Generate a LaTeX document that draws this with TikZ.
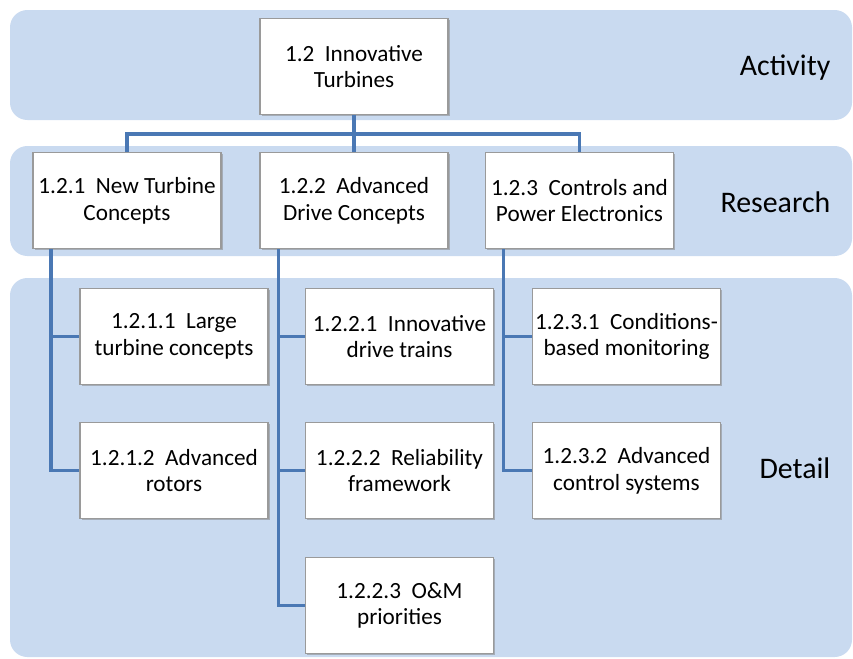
\documentclass[tikz,border=0pt]{standalone}
\usepackage{fontspec}
\setmainfont{Carlito}
\usetikzlibrary{shadows}

\definecolor{bandblue}{HTML}{C9DAF0}
\definecolor{linkblue}{HTML}{4A78B4}
\definecolor{boxgray}{HTML}{9A9A9A}

\tikzset{
  band/.style={fill=bandblue, rounded corners=13pt},
  wbsbox/.style={draw=boxgray, line width=1.1pt, fill=white,
    minimum width=141pt, minimum height=72pt, align=center, inner sep=2pt,
    font=\fontsize{17.4}{20}\selectfont,
    drop shadow={shadow xshift=1.3pt, shadow yshift=-1.3pt, fill=black!50, opacity=0.5}},
  link/.style={draw=linkblue, line width=2.4pt},
  levellabel/.style={anchor=base east, font=\fontsize{22.4}{26}\selectfont}
}

\begin{document}
\begin{tikzpicture}[x=0.75pt, y=-0.75pt]
	\useasboundingbox (0,0) rectangle (853,658);

	% level bands
	\fill [band] (10, 10) rectangle (852, 120);
	\fill [band] (10, 146) rectangle (852, 256);
	\fill [band] (10, 278) rectangle (852, 657);

	\node [levellabel] (activity) at (835, 75) {Activity};
	\node [levellabel] (research) at (835, 212) {Research};
	\node [levellabel] (detail) at (835, 478) {Detail};

	% activity
	\node [wbsbox] (top) at (354, 66.5) {1.2\ \ Innovative\\Turbines};

	% research
	\node [wbsbox] (r1) at (127, 200.5) {1.2.1\ \ New Turbine\\Concepts};
	\node [wbsbox] (r2) at (354, 200.5) {1.2.2\ \ Advanced\\Drive Concepts};
	\node [wbsbox] (r3) at (579.5, 200.5) {1.2.3\ \ Controls and\\Power Electronics};

	% detail
	\node [wbsbox] (d11) at (174, 336.5) {1.2.1.1\ \ Large\\turbine concepts};
	\node [wbsbox] (d12) at (174, 470.5) {1.2.1.2\ \ Advanced\\rotors};
	\node [wbsbox] (d21) at (399.5, 336.5) {1.2.2.1\ \ Innovative\\drive trains};
	\node [wbsbox] (d22) at (399.5, 470.5) {1.2.2.2\ \ Reliability\\framework};
	\node [wbsbox] (d23) at (399.5, 605.5) {1.2.2.3\ \ O\&M\\priorities};
	\node [wbsbox] (d31) at (626.5, 336.5) {1.2.3.1\ \ Conditions-\\based monitoring};
	\node [wbsbox] (d32) at (626.5, 470.5) {1.2.3.2\ \ Advanced\\control systems};

	% connectors
	\coordinate (bus) at (354, 134);
	\draw [link] (top.south) -- (bus);
	\draw [link] (bus) -| (r1.north);
	\draw [link] (bus) -- (r2.north);
	\draw [link] (bus) -| (r3.north);

	\draw [link] ([xshift=14pt]r1.south west) |- (d11.west);
	\draw [link] ([xshift=14pt]r1.south west) |- (d12.west);

	\draw [link] ([xshift=14.5pt]r2.south west) |- (d21.west);
	\draw [link] ([xshift=14.5pt]r2.south west) |- (d22.west);
	\draw [link] ([xshift=14.5pt]r2.south west) |- (d23.west);

	\draw [link] ([xshift=14pt]r3.south west) |- (d31.west);
	\draw [link] ([xshift=14pt]r3.south west) |- (d32.west);
\end{tikzpicture}
\end{document}
